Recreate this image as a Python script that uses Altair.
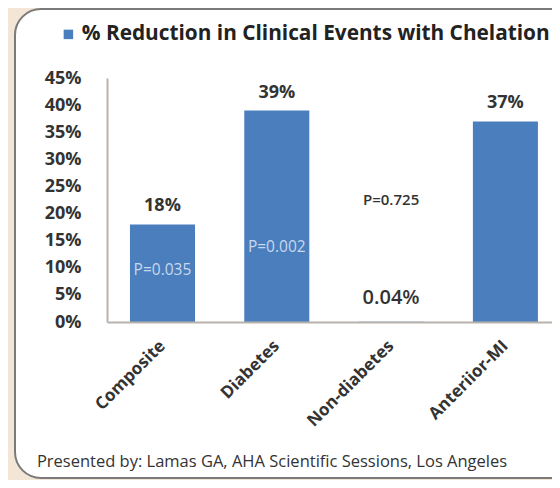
import altair as alt
import pandas as pd

categories = ["Composite", "Diabetes", "Non-diabetes", "Anteriior-MI"]
values = [18, 39, 0.04, 37]
value_labels = ["18%", "39%", "0.04%", "37%"]
p_labels = ["P=0.035", "P=0.002", "P=0.725", ""]
p_label_y = [9.6, 13.8, 22.5, 0]
series_name = "% Reduction in Clinical Events with Chelation"
footer = "Presented by: Lamas GA, AHA Scientific Sessions, Los Angeles"
y_ticks = [0, 5, 10, 15, 20, 25, 30, 35, 40, 45]

df = pd.DataFrame({
    "cat": categories,
    "val": values,
    "vlabel": value_labels,
    "plabel": p_labels,
    "py": p_label_y,
    "series": [series_name] * 4,
})

FONT = "Open Sans"
BLUE = "#4a7ebd"

x_axis = alt.Axis(title=None, labelAngle=-45, labelAlign="right", labelBaseline="middle",
                  labelFontSize=17, labelFontWeight="bold", labelColor="#333333",
                  labelFont=FONT, labelPadding=21, ticks=False, zindex=2,
                  labelOverlap=False,
                  domainColor="#b8b2ac", domainWidth=2, grid=False)
y_axis = alt.Axis(title=None, values=y_ticks, labelExpr="datum.value + '%'",
                  labelFontSize=18, labelFontWeight="bold", labelColor="#333333",
                  labelFont=FONT, labelPadding=26, ticks=False, zindex=2,
                  labelOverlap=False, labelFlush=False, tickCount=10,
                  domainColor="#b8b2ac", domainWidth=2, grid=False)
x_scale = alt.Scale(paddingInner=0.431, paddingOuter=0.162, align=0.62)
y_scale = alt.Scale(domain=[0, 45], nice=False)

xs = alt.X("cat:N", sort=categories, scale=x_scale, axis=x_axis)
ys = alt.Y("val:Q", scale=y_scale, axis=y_axis)
ys_p = alt.Y("py:Q", scale=y_scale, axis=y_axis)

one = pd.DataFrame({"a": [0]})
panel = alt.Chart(one).mark_rect(fill="white", stroke="#7a7a7a", strokeWidth=2, cornerRadius=26).encode(
    x=alt.value(-92), x2=alt.value(480), y=alt.value(-69), y2=alt.value(400))

bars = alt.Chart(df).mark_bar(color=BLUE).encode(
    x=xs, y=ys,
    color=alt.Color("series:N", scale=alt.Scale(range=[BLUE]),
                    legend=alt.Legend(title=None, orient="none", legendX=-49, legendY=-54,
                                      symbolType="square", symbolSize=90, symbolStrokeWidth=0,
                                      labelFontSize=20.8, labelFontWeight="bold", labelFont=FONT,
                                      labelColor="#222222", labelLimit=0, symbolOffset=0,
                                      labelOffset=3)))

vtext_bold = alt.Chart(df).transform_filter("datum.val >= 1").mark_text(
    font=FONT, fontSize=18, fontWeight="bold", color="#333333", baseline="alphabetic", dy=-13
).encode(x=xs, y=ys, text="vlabel:N")

vtext_reg = alt.Chart(df).transform_filter("datum.val < 1").mark_text(
    font=FONT, fontSize=20, fontWeight=600, color="#333333", baseline="alphabetic", dy=-18
).encode(x=xs, y=ys, text="vlabel:N")

ptext_in = alt.Chart(df).transform_filter("datum.val >= 1 && datum.plabel != ''").mark_text(
    font=FONT, fontSize=15.5, color="#c9d8ee", baseline="middle"
).encode(x=xs, y=ys_p, text="plabel:N")

ptext_out = alt.Chart(df).transform_filter("datum.val < 1").mark_text(
    font=FONT, fontSize=15, fontWeight=600, color="#333333", baseline="middle"
).encode(x=xs, y=ys_p, text="plabel:N")

foot = alt.Chart(pd.DataFrame({"t": [footer]})).mark_text(
    font=FONT, fontSize=16.5, color="#333333", baseline="middle", align="center"
).encode(x=alt.value(165), y=alt.value(384), text="t:N")

chart = alt.layer(panel, bars, vtext_bold, vtext_reg, ptext_in, ptext_out, foot).properties(
    width=445, height=244,
    autosize=alt.AutoSizeParams(type="none"),
    padding={"left": 99, "top": 70, "right": 0, "bottom": 158},
    background="#f4e6d6",
).configure_view(stroke=None)

chart.save("out.html", embed_options={"renderer": "svg", "actions": False})
